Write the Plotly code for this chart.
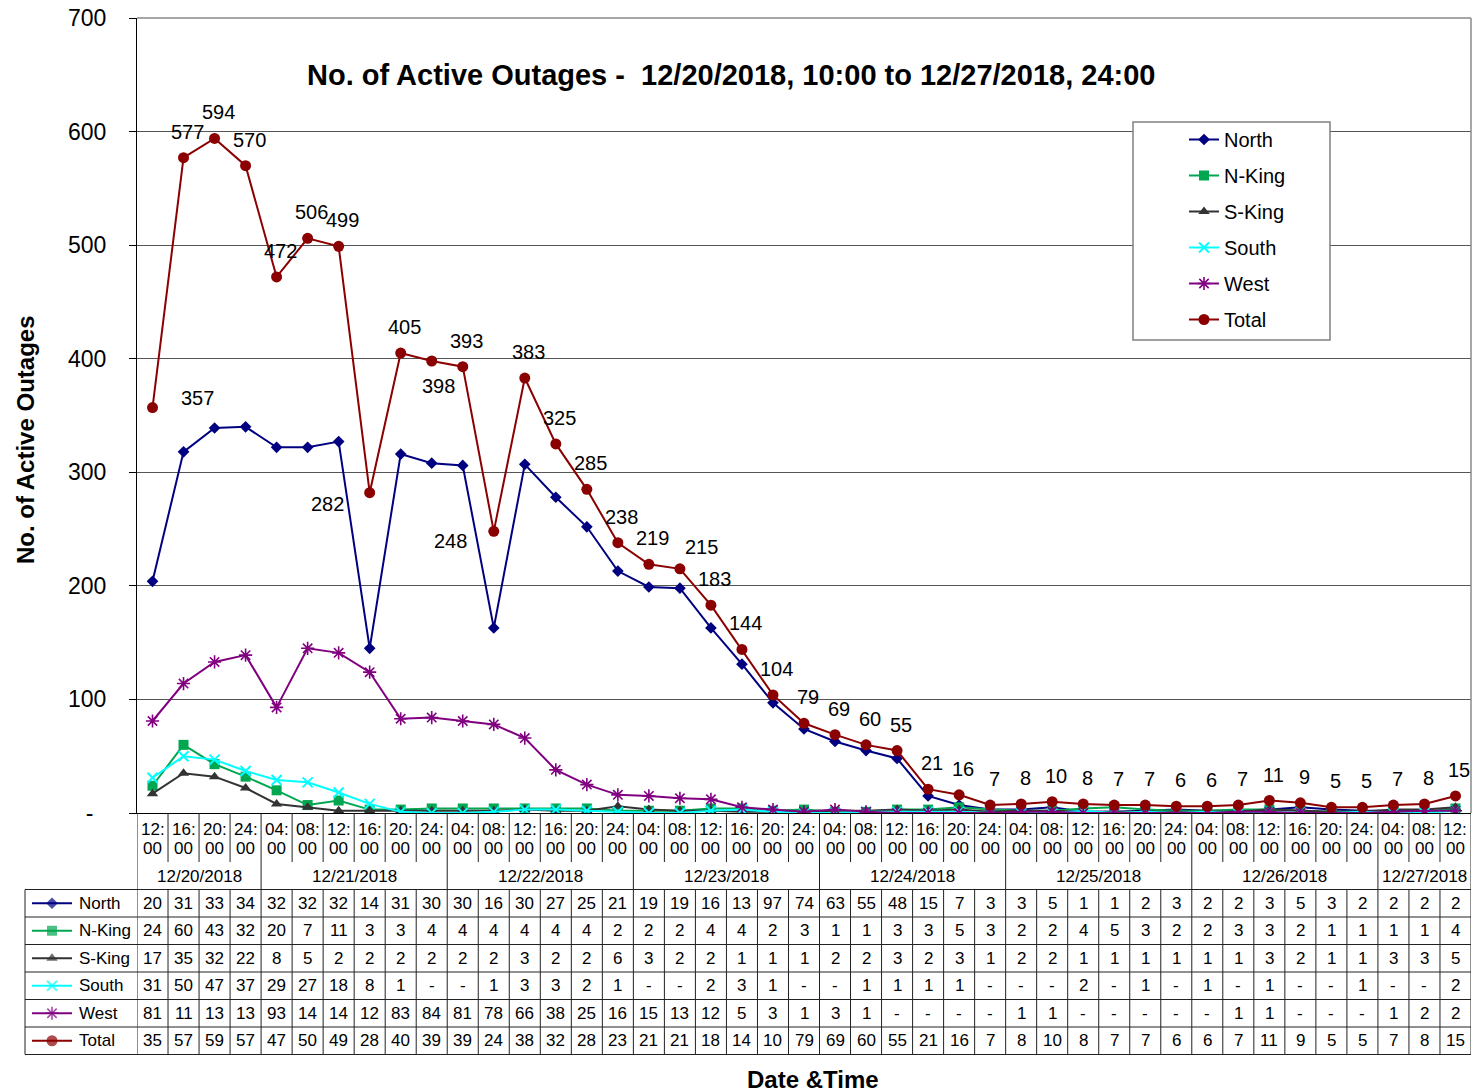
import plotly.graph_objects as go

# ---------------- data ----------------
times = ["12:00", "16:00", "20:00", "24:00",
         "04:00", "08:00", "12:00", "16:00", "20:00", "24:00",
         "04:00", "08:00", "12:00", "16:00", "20:00", "24:00",
         "04:00", "08:00", "12:00", "16:00", "20:00", "24:00",
         "04:00", "08:00", "12:00", "16:00", "20:00", "24:00",
         "04:00", "08:00", "12:00", "16:00", "20:00", "24:00",
         "04:00", "08:00", "12:00", "16:00", "20:00", "24:00",
         "04:00", "08:00", "12:00"]
date_labels = ["12/20/2018", "12/21/2018", "12/22/2018", "12/23/2018",
               "12/24/2018", "12/25/2018", "12/26/2018", "12/27/2018"]
date_counts = [4, 6, 6, 6, 6, 6, 6, 3]

series_names = ["North", "N-King", "S-King", "South", "West", "Total"]
north = [204, 318, 339, 340, 322, 322, 327, 145, 316, 308,
         306, 163, 307, 278, 252, 213,
         199, 198, 163, 131, 97, 74,
         63, 55, 48, 15, 7, 3,
         3, 5, 1, 1, 2, 3,
         2, 2, 3, 5, 3, 2,
         2, 2, 2]
nking = [24, 60, 43, 32, 20, 7, 11, 3, 3, 4,
         4, 4, 4, 4, 4, 2,
         2, 2, 4, 4, 2, 3,
         1, 1, 3, 3, 5, 3,
         2, 2, 4, 5, 3, 2,
         2, 3, 3, 2, 1, 1,
         1, 1, 4]
sking = [17, 35, 32, 22, 8, 5, 2, 2, 2, 2,
         2, 2, 3, 2, 2, 6,
         3, 2, 2, 1, 1, 1,
         2, 2, 3, 2, 3, 1,
         2, 2, 1, 1, 1, 1,
         1, 1, 3, 2, 1, 1,
         3, 3, 5]
south = [31, 50, 47, 37, 29, 27, 18, 8, 1, 0,
         0, 1, 3, 3, 2, 1,
         0, 0, 2, 3, 1, 0,
         0, 1, 1, 1, 1, 0,
         0, 0, 2, 0, 1, 0,
         1, 0, 1, 0, 0, 1,
         0, 0, 2]
west = [81, 114, 133, 139, 93, 145, 141, 124, 83, 84,
        81, 78, 66, 38, 25, 16,
        15, 13, 12, 5, 3, 1,
        3, 1, 0, 0, 0, 0,
        1, 1, 0, 0, 0, 0,
        0, 1, 1, 0, 0, 0,
        1, 2, 2]
total = [357, 577, 594, 570, 472, 506, 499, 282, 405, 398,
         393, 248, 383, 325, 285, 238,
         219, 215, 183, 144, 104, 79,
         69, 60, 55, 21, 16, 7,
         8, 10, 8, 7, 7, 6,
         6, 7, 11, 9, 5, 5,
         7, 8, 15]
values = [north, nking, sking, south, west, total]

y_ticks = [0, 100, 200, 300, 400, 500, 600, 700]

# ---------------- layout helpers ----------------
W, H = 1474, 1092
PL, PR, PT, PB = 137, 1471, 18, 813
KEY_L = 25
TIME_BOTTOM = 862
ROW0 = 889.5
ROW_H = 27.5
FONT = "Liberation Sans, Arial, sans-serif"


def fx(p):
    return p / W


def fy(p):
    return 1 - p / H


styles = {
    "North": dict(color="#000080", symbol="diamond", size=9, mlw=0),
    "N-King": dict(color="#00A650", symbol="square", size=10, mlw=0),
    "S-King": dict(color="#333333", symbol="triangle-up", size=10, mlw=0),
    "South": dict(color="#00FFFF", symbol="x-thin-open", size=10, mlw=2),
    "West": dict(color="#800080", symbol="asterisk-open", size=11, mlw=1.6),
    "Total": dict(color="#8B0000", symbol="circle", size=11, mlw=0),
}

x = list(range(len(times)))
fig = go.Figure()
for name, vals in zip(series_names, values):
    st = styles[name]
    fig.add_trace(go.Scatter(
        x=x, y=vals, name=name, mode="lines+markers", legendgroup=name,
        line=dict(color=st["color"], width=2),
        marker=dict(symbol=st["symbol"], size=st["size"], color=st["color"],
                    line=dict(color=st["color"], width=st["mlw"])),
    ))

annotations = []
shapes = []


def note(**kw):
    d = dict(showarrow=False, xanchor="center", yanchor="middle")
    d.update(kw)
    annotations.append(d)


# data labels on Total
label_shift = {0: (45, 10), 7: (-42, -11), 9: (7, -25), 11: (-43, -10), 17: (22, 22)}
for i, v in enumerate(total):
    dx, dy = label_shift.get(i, (4, 26))
    note(x=i, y=v, xref="x", yref="y", text=str(v), xshift=dx, yshift=dy,
         font=dict(size=20, color="black"))

# title & axis titles
note(x=fx(731), y=fy(75), xref="paper", yref="paper",
     text="<b>No. of Active Outages -  12/20/2018, 10:00 to 12/27/2018, 24:00</b>",
     font=dict(size=29, color="black"))
note(x=fx(25), y=fy(440), xref="paper", yref="paper",
     text="<b>No. of Active Outages</b>", textangle=-90,
     font=dict(size=24, color="black"))
note(x=fx(813), y=fy(1079), xref="paper", yref="paper",
     text="<b>Date &amp;Time</b>", font=dict(size=24, color="black"))

# time labels
for i, t in enumerate(times):
    hh, mm = t.split(":")
    note(x=i, y=fy(829), xref="x", yref="paper", text=hh + ":", font=dict(size=17))
    note(x=i, y=fy(848), xref="x", yref="paper", text=mm, font=dict(size=17))

# date labels + boundaries
bounds = [0]
for c in date_counts:
    bounds.append(bounds[-1] + c)
for d, a, b in zip(date_labels, bounds[:-1], bounds[1:]):
    note(x=(a + b - 1) / 2, y=fy(876), xref="x", yref="paper", text=d, font=dict(size=17))

LINE = dict(color="#222222", width=1)
table_bottom = ROW0 + ROW_H * len(series_names)
for k in range(len(times) + 1):
    xb = k - 0.5
    if k in bounds:
        shapes.append(dict(type="line", xref="x", yref="paper", x0=xb, x1=xb,
                           y0=fy(PB), y1=fy(table_bottom), line=LINE))
    else:
        shapes.append(dict(type="line", xref="x", yref="paper", x0=xb, x1=xb,
                           y0=fy(PB), y1=fy(TIME_BOTTOM), line=LINE))
        shapes.append(dict(type="line", xref="x", yref="paper", x0=xb, x1=xb,
                           y0=fy(ROW0), y1=fy(table_bottom), line=LINE))
for j in range(len(series_names) + 1):
    yy = ROW0 + ROW_H * j
    shapes.append(dict(type="line", xref="paper", yref="paper", x0=fx(KEY_L), x1=fx(PR),
                       y0=fy(yy), y1=fy(yy), line=LINE))
shapes.append(dict(type="line", xref="paper", yref="paper", x0=fx(KEY_L), x1=fx(KEY_L),
                   y0=fy(ROW0), y1=fy(table_bottom), line=LINE))
# plot frame (top / right)
shapes.append(dict(type="line", xref="paper", yref="paper", x0=fx(PL), x1=fx(PR),
                   y0=fy(PT), y1=fy(PT), line=dict(color="#8a8a8a", width=1.5)))
shapes.append(dict(type="line", xref="paper", yref="paper", x0=fx(PR), x1=fx(PR),
                   y0=fy(PT), y1=fy(PB), line=dict(color="#8a8a8a", width=1.5)))


# table cells
def cell_text(v):
    return "-" if v == 0 else str(v)[:2]


row_centers = []
for j, (name, vals) in enumerate(zip(series_names, values)):
    yc = ROW0 + ROW_H * (j + 0.5)
    row_centers.append(yc)
    for i, v in enumerate(vals):
        note(x=i, y=fy(yc), xref="x", yref="paper", text=cell_text(v), font=dict(size=17))
    note(x=fx(77), y=fy(yc), xref="paper", yref="paper", xanchor="left",
         text=name, font=dict(size=17))
    shapes.append(dict(type="line", xref="paper", yref="paper", x0=fx(32), x1=fx(72),
                       y0=fy(yc), y1=fy(yc), line=dict(color=styles[name]["color"], width=2)))

# key markers in the table (overlay pixel axes)
fig.add_trace(go.Scatter(
    x=[52] * len(series_names), y=row_centers, xaxis="x2", yaxis="y2", mode="markers",
    showlegend=False, cliponaxis=False, hoverinfo="skip",
    marker=dict(symbol=[styles[n]["symbol"] for n in series_names],
                size=[styles[n]["size"] for n in series_names],
                color=[styles[n]["color"] for n in series_names],
                line=dict(color=[styles[n]["color"] for n in series_names],
                          width=[styles[n]["mlw"] for n in series_names])),
))

# legend box
shapes.append(dict(type="rect", xref="paper", yref="paper", x0=fx(1133), x1=fx(1330),
                   y0=fy(122), y1=fy(340), line=dict(color="#808080", width=1.5),
                   fillcolor="white", layer="above"))

fig.update_layout(
    width=W, height=H, autosize=False,
    margin=dict(l=0, r=0, t=0, b=0, pad=0),
    paper_bgcolor="white", plot_bgcolor="rgba(0,0,0,0)",
    font=dict(family=FONT, color="black"),
    showlegend=True,
    legend=dict(x=fx(1184), y=fy(120), xanchor="left", yanchor="top",
                bgcolor="rgba(0,0,0,0)", borderwidth=0, font=dict(size=20),
                tracegroupgap=7),
    xaxis=dict(domain=[fx(PL), fx(PR)], range=[-0.5, len(times) - 0.5], automargin=False,
               showticklabels=False, ticks="", showgrid=False, zeroline=False,
               showline=True, linecolor="black", linewidth=1.2),
    yaxis=dict(domain=[fy(PB), fy(PT)], range=[0, 700], automargin=False,
               tickvals=y_ticks,
               ticktext=["-\u00a0\u00a0"] + [str(v) for v in y_ticks[1:]],
               ticks="outside", ticklen=7, tickcolor="black",
               tickfont=dict(size=23), ticklabelstandoff=18,
               showgrid=True, gridcolor="#555555", gridwidth=1,
               zeroline=False, showline=True, linecolor="black", linewidth=1.2),
    xaxis2=dict(domain=[0, 1], range=[0, W], visible=False, anchor="y2",
                fixedrange=True, automargin=False),
    yaxis2=dict(domain=[0, 1], range=[H, 0], visible=False, anchor="x2",
                fixedrange=True, automargin=False),
    annotations=annotations,
    shapes=shapes,
)

fig.write_html("out.html", config={"displayModeBar": False},
               post_script="document.body.style.margin='0';")
